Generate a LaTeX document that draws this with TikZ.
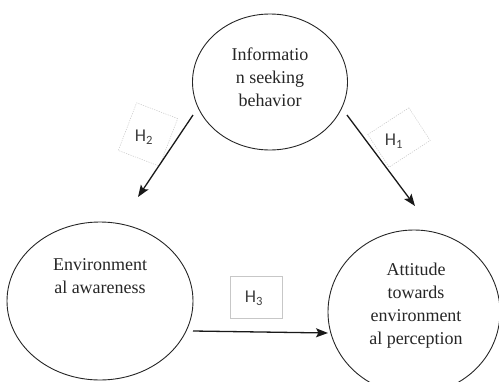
\documentclass[tikz,border=0pt]{standalone}
\usepackage{fontspec}
\setmainfont{Liberation Serif}
\newfontfamily\hfont{Carlito}
\usetikzlibrary{arrows.meta,shapes.geometric}
\begin{document}
\begin{tikzpicture}[x=1pt,y=-1pt,
  ell/.style={draw=black!85, line width=0.9pt, ellipse, inner sep=0pt},
  lbl/.style={align=center, text=black!85, inner sep=0pt,
    font=\fontsize{18}{23}\selectfont},
  hbox/.style={draw=black!22, line width=0.5pt, inner sep=0pt},
  hdash/.style={hbox, dash pattern=on 1.2pt off 1.2pt},
  htext/.style={text=black!75, inner sep=0pt, font=\hfont\fontsize{18}{18}\selectfont},
  arr/.style={line width=1.3pt, black!90, -{Stealth[length=12pt,width=9pt,inset=2.5pt]}}]
\useasboundingbox (0,0) rectangle (499,381);
% ellipses
\node[ell, minimum width=155pt, minimum height=136pt] (info) at (270,82) {};
\node[lbl] (infot) at (270,77) {Informatio\\n seeking\\behavior};
\node[ell, minimum width=186pt, minimum height=158pt] (aware) at (100,301) {};
\node[lbl] (awaret) at (100,276) {Environment\\al awareness};
\node[ell, minimum width=172pt, minimum height=164pt] (att) at (414,312) {};
\node[lbl] (attt) at (416,306) {Attitude\\towards\\environment\\al perception};
% hypothesis boxes
\node[hdash, rotate=-21, minimum width=44pt, minimum height=51pt] (h2b) at (148,134.5) {};
\node[htext] (h2) at (144,137) {H\textsubscript{2}};
\node[hdash, rotate=33, minimum width=49pt, minimum height=39pt] (h1b) at (399,137.5) {};
\node[htext] (h1) at (394,141) {H\textsubscript{1}};
\node[hbox, minimum width=52pt, minimum height=42pt] (h3b) at (256,297) {};
\node[htext] (h3) at (254,298) {H\textsubscript{3}};
% arrows
\coordinate (a2s) at (193,115);
\coordinate (a2e) at (138,197);
\coordinate (a1s) at (347,115);
\coordinate (a1e) at (415,206);
\coordinate (a3s) at (193,331);
\coordinate (a3e) at (328,333);
\draw[arr] (a2s) -- (a2e);
\draw[arr] (a1s) -- (a1e);
\draw[arr] (a3s) -- (a3e);
\end{tikzpicture}
\end{document}
